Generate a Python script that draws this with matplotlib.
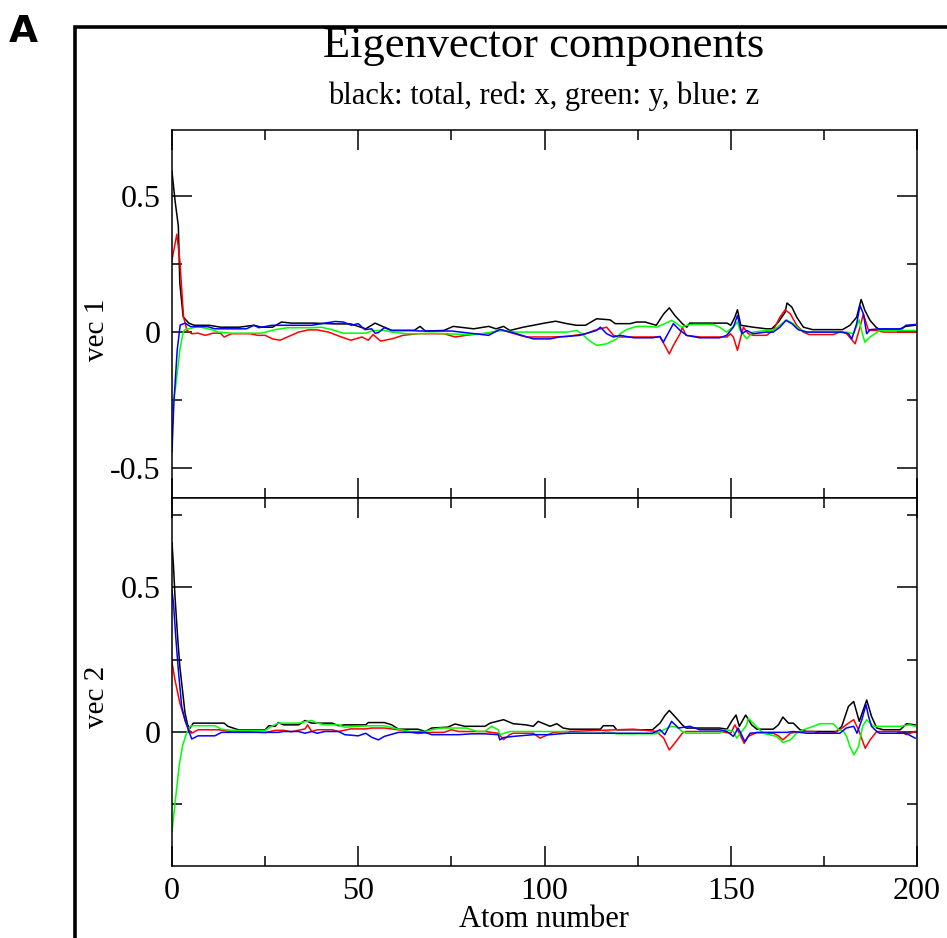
import matplotlib.pyplot as plt
from matplotlib.patches import Rectangle
from matplotlib.ticker import MultipleLocator, FixedLocator

plt.rcParams['font.family'] = ['Liberation Serif', 'DejaVu Serif']

# vec 1 -------------------------------------------------------------
v1_tot_x = [0, 0.8, 1.7, 2.1, 3, 4.5, 6, 10, 13, 18, 22, 24, 27, 29.4, 32, 38, 44, 48, 52, 54.5,
            59, 65, 66.6, 68, 73, 75.5, 81, 85, 87, 89, 90.7, 94.3, 97, 100, 103, 106, 108.6, 111,
            112, 114, 117.6, 119, 123, 124.7, 127, 130, 132, 133.5, 135, 137, 138.2, 139, 144, 149,
            150, 151.1, 151.8, 152.7, 156, 159.6, 161, 162.8, 164.6, 165.1, 166.4, 167.7, 169.5,
            172, 180, 182, 183.8, 185, 186, 187.4, 189, 190, 195, 197, 199.5]
v1_tot_y = [0.59, 0.485, 0.39, 0.18, 0.056, 0.033, 0.025, 0.025, 0.018, 0.018, 0.025, 0.018, 0.018,
            0.037, 0.033, 0.033, 0.03, 0.03, 0.012, 0.033, 0.006, 0.006, 0.021, 0.004, 0.006, 0.021,
            0.012, 0.021, 0.012, 0.021, 0.006, 0.018, 0.025, 0.033, 0.04, 0.031, 0.025, 0.025,
            0.033, 0.049, 0.045, 0.031, 0.031, 0.037, 0.037, 0.025, 0.067, 0.089, 0.061, 0.031,
            0.018, 0.033, 0.033, 0.033, 0.025, 0.055, 0.082, 0.025, 0.018, 0.012, 0.012, 0.037,
            0.073, 0.107, 0.092, 0.055, 0.018, 0.009, 0.009, 0.025, 0.055, 0.12, 0.08, 0.043,
            0.018, 0.009, 0.009, 0.021, 0.025]

v1_x_x = [0, 1.3, 2.1, 2.5, 3.1, 4, 5.3, 7, 9, 11, 13, 14, 16, 21, 23, 25, 27, 29, 31, 34, 36.6,
          39, 42, 45.5, 48, 51, 52.7, 54, 56, 59, 62, 66, 73, 76, 80.5, 85, 88, 89, 93.4, 95,
          101.5, 106, 111, 114, 116.7, 118.5, 120, 129, 131, 132.3, 133.5, 134.6, 136.4, 137, 138,
          141.7, 149, 149.9, 150.7, 151.8, 152.7, 153.4, 154.7, 156, 159.6, 161.4, 163.2, 164.6,
          166, 167.7, 169.5, 171, 177.5, 179.3, 181, 183.4, 184.7, 185.6, 187, 189, 191, 199.5]
v1_x_y = [0.265, 0.36, 0.265, 0.18, 0.056, 0.007, -0.006, -0.004, -0.012, -0.004, -0.004, -0.018,
          -0.006, -0.006, -0.012, -0.012, -0.025, -0.03, -0.018, 0.0, 0.008, 0.008, 0.0, -0.018,
          -0.03, -0.018, -0.03, -0.009, -0.033, -0.025, -0.012, -0.006, -0.006, -0.018, -0.009,
          -0.004, 0.006, 0.006, -0.012, -0.018, -0.018, -0.016, -0.006, 0.009, 0.018, -0.012,
          -0.018, -0.018, -0.018, -0.049, -0.08, -0.049, -0.006, 0.018, -0.012, -0.018, -0.018,
          -0.006, -0.018, -0.067, -0.018, 0.018, -0.006, -0.012, -0.012, 0.006, 0.055, 0.082,
          0.067, 0.025, 0.0, -0.009, -0.009, 0.0, -0.004, -0.043, 0.018, 0.067, 0.006, 0.006,
          0.0, 0.0]

v1_y_x = [0, 0.9, 2.1, 3, 3.5, 7, 10.6, 12.4, 16, 24, 27.7, 31, 37.5, 40, 43, 46, 52, 54, 57, 59,
          63, 66, 69.7, 79, 82, 85.8, 88, 92.5, 106, 108.6, 110, 112, 114, 116.7, 119.4, 120.3,
          122, 124.7, 127.4, 130, 132.3, 134.1, 135.5, 136.8, 138.2, 140, 145.3, 147, 148.9,
          151.1, 151.8, 152.5, 154.3, 156, 159.6, 161.4, 163.7, 165, 166.8, 168.6, 170.4, 181,
          183, 184.5, 185.1, 186, 187.4, 190, 199.5]
v1_y_y = [-0.287, -0.21, -0.066, 0.0, 0.009, 0.02, 0.009, 0.0, -0.004, -0.004, 0.009, 0.016, 0.016,
          0.018, 0.009, -0.004, -0.004, 0.006, 0.006, 0.0, -0.006, -0.006, -0.004, -0.009, -0.009,
          0.0, 0.006, 0.0, 0.0, 0.006, -0.006, -0.031, -0.049, -0.043, -0.025, -0.006, 0.009,
          0.021, 0.021, 0.018, 0.031, 0.043, 0.031, 0.018, 0.025, 0.028, 0.028, 0.018, 0.0,
          0.025, 0.037, 0.006, -0.025, 0.0, 0.006, 0.006, 0.031, 0.045, 0.031, 0.009, 0.0, 0.0,
          -0.006, 0.045, 0.006, -0.037, -0.018, 0.006, 0.006]

v1_z_x = [0, 0.5, 1.4, 2.2, 2.6, 3.5, 5, 9.6, 11.5, 20, 22, 23.3, 26.8, 37.5, 43.8, 46, 48.2, 50,
          51.8, 53.6, 54.5, 55.4, 57, 59, 64.4, 66.2, 75, 85, 88, 92.5, 97, 101.5, 104, 109.5,
          114, 115, 116.7, 118.5, 120.3, 124, 129, 131, 131.9, 134.6, 136.4, 138.2, 141.7, 147,
          148.9, 150.7, 151.8, 153, 154.3, 156, 159.6, 161.4, 163.2, 164.8, 166.4, 168.1, 170.4,
          180, 181.6, 182.5, 183.8, 184.7, 185.6, 186.5, 187.4, 190, 196, 197, 199.5]
v1_z_y = [-0.44, -0.26, -0.066, 0.026, 0.028, 0.033, 0.02, 0.02, 0.012, 0.012, 0.025, 0.016, 0.025,
          0.025, 0.039, 0.037, 0.025, 0.031, 0.009, 0.012, -0.004, -0.002, 0.016, 0.006, 0.006,
          0.004, 0.004, -0.012, 0.01, -0.006, -0.025, -0.025, -0.018, -0.012, 0.006, 0.018,
          -0.006, -0.018, -0.012, -0.021, -0.021, -0.016, -0.037, 0.031, 0.006, -0.012, -0.021,
          -0.021, -0.012, 0.018, 0.061, -0.006, 0.006, -0.006, 0.0, 0.0, 0.018, 0.043, 0.031,
          0.009, 0.0, 0.0, -0.006, -0.025, 0.031, 0.098, 0.067, -0.006, 0.009, 0.012, 0.012,
          0.025, 0.028]

# vec 2 -------------------------------------------------------------
v2_tot_x = [0, 0.4, 0.8, 1.5, 2.1, 3, 3.5, 4.2, 4.8, 5.7, 8, 14, 15, 17.8, 25, 26, 27.7, 28.5, 30,
            34, 35.7, 37.5, 43, 44.7, 46.4, 52, 52.7, 57, 59, 60.8, 66, 68, 69.7, 74, 76, 78.6, 84,
            85.4, 89, 91.6, 95, 97, 98.3, 101.5, 103.3, 105, 106.8, 115, 115.8, 118.5, 119.4, 129,
            131, 132.3, 133.5, 135, 137, 138, 147, 149, 150.2, 151.4, 152.3, 154, 155.6, 157,
            161.4, 162.8, 164, 165.5, 166.8, 168.6, 170.4, 178.4, 179.8, 181.6, 183, 184.5, 186.5,
            187.8, 189.2, 191, 195.5, 197.2, 199.5]
v2_tot_y = [0.655, 0.574, 0.47, 0.33, 0.227, 0.123, 0.065, 0.024, 0.012, 0.03, 0.03, 0.03, 0.019,
            0.007, 0.007, 0.021, 0.019, 0.032, 0.024, 0.024, 0.039, 0.03, 0.03, 0.021, 0.024,
            0.024, 0.032, 0.032, 0.024, 0.009, 0.009, 0.001, 0.013, 0.016, 0.027, 0.019, 0.019,
            0.03, 0.042, 0.028, 0.024, 0.019, 0.036, 0.019, 0.028, 0.013, 0.009, 0.009, 0.021,
            0.021, 0.007, 0.007, 0.03, 0.056, 0.074, 0.053, 0.024, 0.013, 0.013, 0.009, 0.036,
            0.058, 0.019, 0.058, 0.024, 0.009, 0.009, 0.024, 0.051, 0.03, 0.03, 0.007, 0.001,
            0.001, 0.019, 0.088, 0.105, 0.036, 0.11, 0.053, 0.013, 0.007, 0.007, 0.028, 0.024]

v2_x_x = [0, 0.8, 2.1, 3.5, 4.4, 5.3, 7, 12.4, 16, 21, 25, 27.7, 30, 32, 35.7, 36.4, 37.5, 39, 43,
          44.7, 48, 52, 53.6, 57, 60.8, 66, 69.7, 73, 75, 77, 84, 87.6, 89, 90.7, 91.6, 93.4, 97,
          98.8, 102.4, 106, 115, 123.8, 127.4, 130, 132, 133.5, 135, 137, 138, 147, 150, 151.1,
          152.3, 153.6, 154.7, 157, 159.6, 161.4, 162.8, 164, 166, 168.6, 172.2, 174, 177.5,
          179.3, 181.6, 183, 184.3, 186.1, 187.4, 189.2, 195.5, 197.2, 199.5]
v2_x_y = [0.24, 0.18, 0.1, 0.04, 0.01, -0.005, 0.007, 0.007, 0.0, 0.0, -0.003, 0.005, 0.005, 0.0,
          0.01, 0.024, 0.001, 0.007, 0.007, 0.001, 0.01, 0.01, 0.013, 0.013, 0.007, -0.006,
          -0.002, -0.002, 0.007, 0.001, 0.001, -0.005, -0.027, -0.01, -0.005, -0.005, -0.005,
          -0.022, -0.002, 0.001, 0.005, 0.009, 0.005, 0.001, -0.022, -0.063, -0.039, -0.005,
          0.001, 0.001, -0.005, 0.024, -0.005, -0.04, -0.016, -0.002, -0.005, -0.005, -0.014,
          -0.028, -0.005, 0.001, 0.001, -0.005, -0.005, 0.007, 0.03, 0.042, 0.007, -0.057,
          -0.028, 0.001, 0.001, -0.01, 0.001]

v2_y_x = [0, 0.8, 1.9, 2.8, 3.9, 4.8, 5.3, 11.5, 13.3, 16, 25, 26.8, 28.5, 34, 35.7, 37.5, 39, 41,
          44.7, 46.4, 50, 53.6, 57, 60.8, 64, 68, 69.7, 72, 79, 82, 84, 85.8, 87.6, 88, 90.7, 106,
          107, 115, 116.7, 119.4, 130, 132, 134.1, 135.5, 137, 138, 147, 149, 150.7, 151.6, 154.3,
          154.7, 156, 158.7, 162.3, 164, 166, 167.7, 169.5, 172.2, 174, 177.5, 179, 180.3, 181.1,
          182, 183.1, 184.3, 185.4, 186.5, 188.3, 191, 195.5, 198.1, 199.5]
v2_y_y = [-0.346, -0.25, -0.12, -0.05, -0.005, 0.018, 0.021, 0.021, 0.009, 0.005, 0.005, 0.019,
          0.03, 0.03, 0.035, 0.039, 0.03, 0.024, 0.024, 0.016, 0.019, 0.021, 0.021, 0.009, 0.001,
          0.001, 0.007, 0.013, 0.013, 0.001, 0.001, 0.019, 0.007, -0.01, 0.001, 0.001, -0.005,
          -0.005, 0.001, -0.007, -0.007, 0.007, 0.019, 0.016, 0.001, -0.005, -0.005, 0.007,
          0.001, -0.022, 0.024, 0.047, 0.03, -0.005, -0.016, -0.037, -0.028, -0.005, 0.007,
          0.019, 0.028, 0.028, 0.007, 0.001, -0.016, -0.051, -0.08, -0.051, 0.019, 0.042, 0.019,
          0.019, 0.019, 0.024, 0.019]

v2_z_x = [0, 0.4, 1, 1.7, 2.6, 3.5, 4.4, 5.3, 7, 11.5, 13.3, 28.5, 30, 34, 35.7, 37.5, 39, 41,
          44.7, 46.4, 50, 52, 53.6, 55.4, 57, 60.8, 68, 69.7, 77, 80.5, 84, 87.6, 88, 89, 91.6, 97,
          101.5, 106, 129, 131, 132.3, 134.1, 136, 139, 141.7, 147, 149, 150.7, 152, 153.8, 155.2,
          158, 165, 166.8, 170.4, 179.3, 181, 183, 183.9, 185.2, 186.3, 187, 187.8, 189.2, 190,
          197, 199.5]
v2_z_y = [0.49, 0.445, 0.33, 0.215, 0.088, 0.04, 0.007, -0.025, -0.014, -0.014, -0.002, -0.002,
          0.001, 0.001, -0.005, 0.001, -0.005, 0.001, 0.001, -0.01, -0.014, -0.005, -0.019,
          -0.028, -0.016, -0.002, -0.002, -0.01, -0.01, -0.007, -0.007, -0.01, -0.028, -0.02,
          -0.016, -0.01, -0.01, -0.005, -0.005, 0.007, -0.01, 0.036, 0.013, 0.019, 0.007, 0.007,
          0.001, -0.016, 0.013, -0.034, -0.005, -0.002, -0.002, 0.001, -0.005, -0.005, 0.013,
          0.019, -0.005, 0.042, 0.094, 0.053, 0.019, 0.001, -0.005, -0.005, -0.022]

x_ticks = [0, 50, 100, 150, 200]
x_ticklabels = ['0', '50', '100', '150', '200']

W, H = 947, 938
fig = plt.figure(figsize=(W / 100, H / 100), dpi=100)

# outer frame (left + top edge, runs off the right/bottom of the image)
fig.add_artist(Rectangle((75 / W, -0.1), 1.2, 1 - 27 / H + 0.1, transform=fig.transFigure,
                         fill=False, lw=2.6, ec='black'))
fig.text(9 / W, 1 - 42 / H, 'A', fontsize=27, fontweight='bold', family='DejaVu Sans')

left, right = 172 / W, 917 / W
ax1 = fig.add_axes([left, 1 - 498 / H, right - left, (498 - 130) / H])
ax2 = fig.add_axes([left, 1 - 866 / H, right - left, (866 - 498) / H])

panels = [
    (ax1, [(v1_tot_x, v1_tot_y), (v1_x_x, v1_x_y), (v1_y_x, v1_y_y), (v1_z_x, v1_z_y)],
     (-0.61, 0.743), [-0.5, 0, 0.5], ['-0.5', '0', '0.5'], [-0.25, 0.25]),
    (ax2, [(v2_tot_x, v2_tot_y), (v2_x_x, v2_x_y), (v2_y_x, v2_y_y), (v2_z_x, v2_z_y)],
     (-0.465, 0.81), [0, 0.5], ['0', '0.5'], [-0.25, 0.25, 0.75]),
]
colors = ['black', '#ff0000', '#00ff00', '#0000ff']

for ax, series, ylim, yt, ytl, ymin in panels:
    for (xs, ys), c in zip(series, colors):
        ax.plot(xs, ys, color=c, lw=1.1)
    ax.set_xlim(0, 200)
    ax.set_ylim(*ylim)
    ax.set_xticks(x_ticks)
    ax.xaxis.set_minor_locator(MultipleLocator(25))
    ax.set_yticks(yt)
    ax.set_yticklabels(ytl)
    ax.yaxis.set_minor_locator(FixedLocator(ymin))
    ax.tick_params(which='both', direction='in', top=True, right=True, width=1.1,
                   labelsize=23, pad=8)
    ax.tick_params(which='major', length=14.5)
    ax.tick_params(which='minor', length=7.5)
    for s in ax.spines.values():
        s.set_linewidth(1.1)

ax1.tick_params(labelbottom=False)
ax2.set_xticklabels(x_ticklabels)

fig.text(97 / W, 1 - 330 / H, 'vec 1', rotation=90, ha='center', va='center', fontsize=21)
fig.text(97 / W, 1 - 697 / H, 'vec 2', rotation=90, ha='center', va='center', fontsize=21)
fig.text(544 / W, 1 - 927 / H, 'Atom number', ha='center', va='baseline', fontsize=22)
fig.text(544 / W, 1 - 57 / H, 'Eigenvector components', ha='center', va='baseline', fontsize=32)
fig.text(544 / W, 1 - 104 / H, 'black: total, red: x, green: y, blue: z', ha='center',
         va='baseline', fontsize=22)

fig.savefig('out.png', dpi=100)
